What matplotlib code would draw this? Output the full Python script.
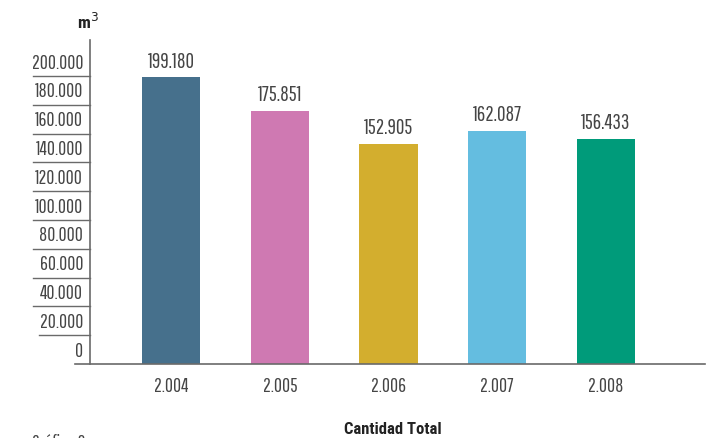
import matplotlib
matplotlib.use("Agg")
import matplotlib.pyplot as plt
from matplotlib import font_manager
import matplotlib.transforms as mtransforms

years = ["2.004", "2.005", "2.006", "2.007", "2.008"]
values = [199180, 175851, 152905, 162087, 156433]
value_labels = ["199.180", "175.851", "152.905", "162.087", "156.433"]
colors = ["#46708C", "#CF79B2", "#D3AE2E", "#64BDE0", "#009B7A"]
ytick_vals = [0, 20000, 40000, 60000, 80000, 100000, 120000, 140000, 160000, 180000, 200000]
ytick_labels = ["0", "20.000", "40.000", "60.000", "80.000", "100.000", "120.000",
                "140.000", "160.000", "180.000", "200.000"]

names = {f.name for f in font_manager.fontManager.ttflist}
def pick(cands):
    for c in cands:
        if c in names:
            return c
    return "DejaVu Sans"
reg = pick(["Pathway Gothic One", "Roboto Condensed", "Archivo Narrow"])
bold = pick(["Roboto Condensed", "Archivo Narrow", "Fira Sans Condensed"])
plt.rcParams["font.family"] = [reg, "DejaVu Sans"]

tc = "#454545"
lc = "#6a6a6a"
fs = 14

fig = plt.figure(figsize=(7.19, 4.38), dpi=100)
ax = fig.add_axes([90/719, 1-364/438, 615/719, 324/438])
x = list(range(len(years)))
ax.bar(x, values, width=0.535, color=colors, zorder=2)
ax.set_xlim(-0.745, 4.91)
ax.set_ylim(0, 225000)

for s in ["top", "right", "bottom"]:
    ax.spines[s].set_visible(False)
ax.spines["left"].set_color(lc)
ax.spines["left"].set_linewidth(1.2)
ax.set_yticks([])
ax.set_xticks(x)
ax.set_xticklabels(years, fontsize=fs, color=tc)
ax.tick_params(axis="x", length=0, pad=9)

trans = mtransforms.blended_transform_factory(ax.transAxes, ax.transData)
ax.plot([-0.0244, 1.0], [0, 0], color=lc, lw=1.2, transform=trans, clip_on=False, zorder=3)
for v, lab in zip(ytick_vals, ytick_labels):
    if v == 0:
        start = -0.0244
    elif v == 20000:
        start = -0.083
    else:
        start = -0.0927
    if v != 0:
        ax.plot([start, 0], [v, v], color=lc, lw=1.0, transform=trans, clip_on=False)
    ax.annotate(lab, xy=(-0.011, v), xycoords=trans, xytext=(0, 2.5), textcoords="offset points",
                ha="right", va="bottom", fontsize=fs, color=tc, annotation_clip=False)

for xi, v, lab in zip(x, values, value_labels):
    ax.annotate(lab, xy=(xi, v), xytext=(0, 4), textcoords="offset points",
                ha="center", va="bottom", fontsize=15, color=tc)

fig.text(88/719, 1-22/438, "m$^3$", ha="center", va="center", fontsize=12.5, fontweight="bold",
         color="#222222", family=[bold, "DejaVu Sans"])
fig.text(393/719, 1-430/438, "Cantidad Total", ha="center", va="center", fontsize=12,
         fontweight="bold", color="#222222", family=[bold, "DejaVu Sans"])
fig.text(32/719, 4/438, "Gráfico 8", ha="left", va="top", fontsize=fs, color=tc)

fig.savefig("out.png", dpi=100)
